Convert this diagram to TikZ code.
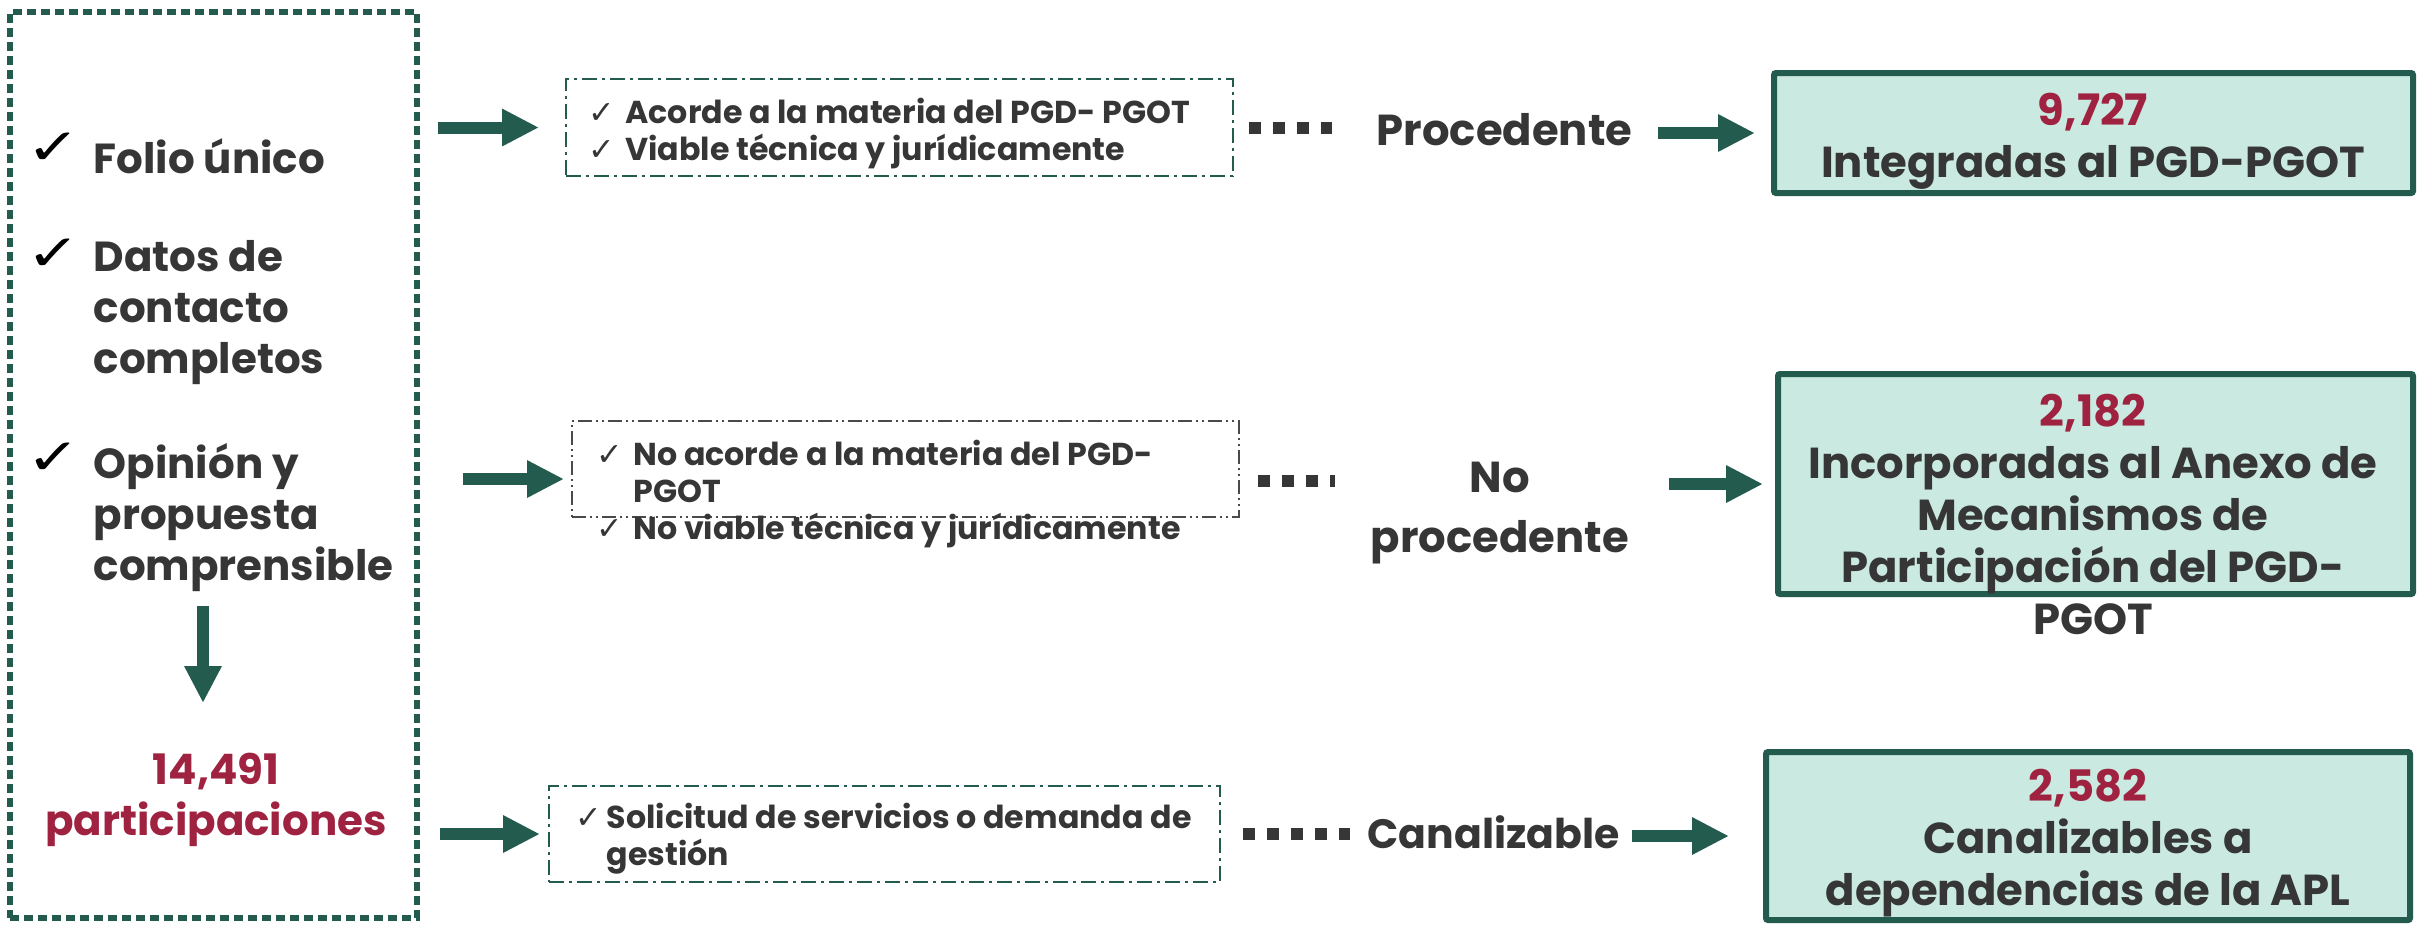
\documentclass[tikz,border=0pt]{standalone}
\usepackage{fontspec}
\setmainfont{Poppins}
\newfontfamily\ckfont{DejaVu Sans}
\usetikzlibrary{arrows.meta}
\definecolor{gob}{HTML}{235B4E}
\definecolor{txt}{HTML}{363636}
\definecolor{vino}{HTML}{9F2241}
\definecolor{mint}{HTML}{C9E9E1}
\definecolor{dgray}{HTML}{4A4A4A}
\newcommand{\ck}[1][11pt]{\makebox[#1][l]{\ckfont ✓}}
\begin{document}
\begin{tikzpicture}[x=0.3pt,y=-0.3pt,
  lcol/.style={font=\fontsize{12.6}{15.3}\selectfont\bfseries, text=txt, align=left, inner sep=0pt, anchor=west},
  bigtxt/.style={font=\fontsize{13}{15.6}\selectfont\bfseries, text=txt, align=center, inner sep=0pt},
  smalltxt/.style={font=\fontsize{9.5}{11.1}\selectfont\bfseries, text=txt, align=left, inner sep=0pt, anchor=west},
  ckl/.style={font=\ckfont\fontsize{15}{15}\selectfont, text=black, inner sep=0pt, xscale=1.3, transform shape},
  leftbox/.style={draw=gob, line width=1.8pt, dash pattern=on 2.7pt off 1.5pt, inner sep=0pt},
  dbox/.style={draw=gob, line width=0.6pt, dash pattern=on 4.5pt off 1.5pt on 0.9pt off 1.5pt, inner sep=0pt},
  dboxg/.style={draw=dgray, line width=0.6pt, dash pattern=on 4.2pt off 1.2pt on 0.6pt off 1.2pt on 0.6pt off 1.2pt, inner sep=0pt},
  resbox/.style={draw=gob, fill=mint, line width=1.8pt, rounded corners=0.6pt, inner sep=0pt},
  bigarrow/.style={draw=gob, line width=3.6pt, -{Triangle[width=10.5pt,length=11.1pt]}},
  dotline/.style={draw=txt, line width=3.6pt, dash pattern=on 3.6pt off 3.6pt}
]
\useasboundingbox (0,0) rectangle (2425,924);

% left column
\node[leftbox, minimum width=122.1pt, minimum height=271.8pt] (lbox) at (213.5,465) {};
\node[ckl] (c1) at (54,149) {✓};
\node[lcol] (folio) at (93,156) {Folio único};
\node[ckl] (c2) at (54,255) {✓};
\node[lcol] (datos) at (93,313) {Datos de\\contacto\\completos};
\node[ckl] (c3) at (54,459) {✓};
\node[lcol] (opin) at (93,518) {Opinión y\\propuesta\\comprensible};
\node[lcol, anchor=center, align=center, text=vino] (num) at (216,800) {14,491\\participaciones};
\coordinate (dtop) at (203,606);
\coordinate (dbot) at (203,703);
\draw[bigarrow] (dtop) -- (dbot);

% dashed boxes
\node[dbox, minimum width=200.1pt, minimum height=29.1pt] (d1) at (899.5,127.5) {};
\node[smalltxt] (t1) at (588,133.5) {\ck Acorde a la materia del PGD- PGOT\\\ck Viable técnica y jurídicamente};
\node[dboxg, minimum width=200.1pt, minimum height=28.8pt] (d2) at (905.5,469) {};
\node[smalltxt] (t2) at (596,494) {\ck No acorde a la materia del PGD-\\\hspace*{11pt}PGOT\\\ck No viable técnica y jurídicamente};
\node[dbox, minimum width=201.3pt, minimum height=28.8pt] (d3) at (884.5,834) {};
\node[smalltxt] (t3) at (575,839) {\ck[9.3pt]Solicitud de servicios o demanda de\\\hspace*{9.3pt}gestión};

% labels
\node[bigtxt, anchor=west] (proc) at (1376,130) {Procedente};
\node[bigtxt, font=\fontsize{13}{18}\selectfont\bfseries] (nop) at (1500,513) {No\\procedente};
\node[bigtxt, font=\fontsize{12.3}{15}\selectfont\bfseries, anchor=west] (canal) at (1367,832) {Canalizable};

% result boxes
\node[resbox, minimum width=191.7pt, minimum height=36pt] (b1) at (2093.5,133) {};
\node[bigtxt] (r1) at (2093,141) {\textcolor{vino}{9,727}\\Integradas al PGD-PGOT};
\node[resbox, minimum width=190.5pt, minimum height=66pt] (b2) at (2095.5,484) {};
\node[bigtxt] (r2) at (2093,514) {\textcolor{vino}{2,182}\\Incorporadas al Anexo de\\Mecanismos de\\Participación del PGD-\\PGOT};
\node[resbox, minimum width=193.2pt, minimum height=50.4pt] (b3) at (2088,836) {};
\node[bigtxt] (r3) at (2088,843) {\textcolor{vino}{2,582}\\Canalizables a\\dependencias de la APL};

% row 1 connectors
\draw[bigarrow, shorten <=5.4pt, shorten >=7.8pt] (lbox.east |- d1.west) -- (d1.west);
\draw[dotline, shorten <=4.5pt, shorten >=13.2pt] (d1.east) -- (d1.east -| proc.west);
\draw[bigarrow, shorten <=7.5pt, shorten >=4.8pt] (proc.east |- b1.west) -- (b1.west);

% row 2 connectors
\coordinate (a2) at ([yshift=-3pt]d2.west);
\draw[bigarrow, shorten <=12.9pt, shorten >=2.1pt] (lbox.east |- a2) -- (a2);
\coordinate (p2) at ([yshift=-3.6pt]d2.east);
\draw[dotline, shorten <=5.4pt, shorten >=10.5pt] (p2) -- (p2 -| nop.west);
\draw[bigarrow, shorten <=11.7pt, shorten >=3.6pt] (nop.east |- b2.west) -- (b2.west);

% row 3 connectors
\draw[bigarrow, shorten <=6pt, shorten >=2.4pt] (lbox.east |- d3.west) -- (d3.west);
\draw[dotline, shorten <=6.6pt, shorten >=5.1pt] (d3.east) -- (d3.east -| canal.west);
\draw[bigarrow, shorten <=3.6pt, shorten >=10.2pt] (canal.east |- b3.west) -- (b3.west);
\end{tikzpicture}
\end{document}
